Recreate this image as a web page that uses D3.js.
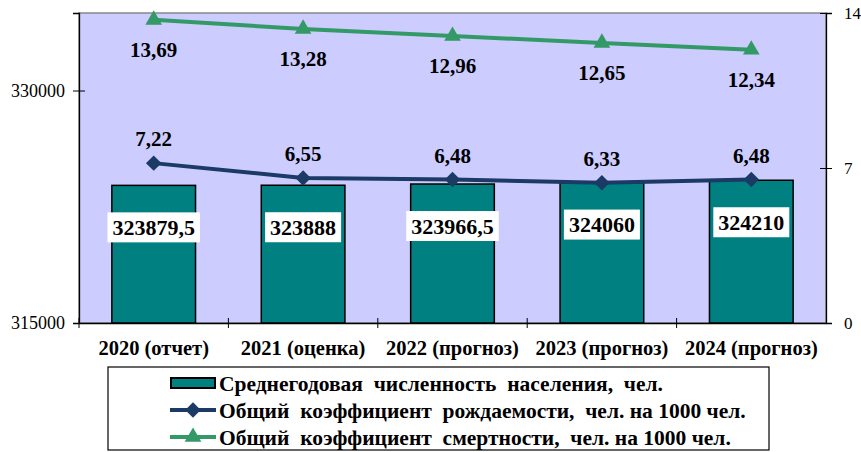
<!DOCTYPE html>
<html>
<head>
<meta charset="utf-8">
<script src="https://cdn.jsdelivr.net/npm/d3@7"></script>
</head>
<body style="margin:0;background:#fff">
<svg id="chart" width="861" height="452"></svg>
<script>
// data
var years = ["2020 (отчет)", "2021 (оценка)", "2022 (прогноз)", "2023 (прогноз)", "2024 (прогноз)"];
var population = [323879.5, 323888, 323966.5, 324060, 324210];
var popLabels = ["323879,5", "323888", "323966,5", "324060", "324210"];
var birthRate = [7.22, 6.55, 6.48, 6.33, 6.48];
var deathRate = [13.69, 13.28, 12.96, 12.65, 12.34];
var leftTicks = [315000, 330000];
var rightTicks = [0, 7, 14];
var legendNames = [
  "Среднегодовая  численность  населения,  чел.",
  "Общий  коэффициент  рождаемости,  чел. на 1000 чел.",
  "Общий  коэффициент  смертности,  чел. на 1000 чел."
];

var FONT = "Liberation Serif";
var plot = { left: 79, right: 826, top: 13, bottom: 323 };
var colors = { bg: "#ccccff", bar: "#008080", birth: "#1b3a66", death: "#339966" };
var fmt = function(v) { return String(v.toFixed(2)).replace(".", ","); };

var svg = d3.select("#chart");

var x = d3.scaleBand()
    .domain(years)
    .range([plot.left, plot.right])
    .paddingInner(0.44)
    .paddingOuter(0.22);

var xCat = d3.scaleBand()
    .domain(years)
    .range([plot.left, plot.right]);

var yLeft = d3.scaleLinear().domain([315000, 335000]).range([plot.bottom, plot.top]);
var yRight = d3.scaleLinear().domain([0, 14]).range([plot.bottom, plot.top]);

// plot background
svg.append("rect")
    .attr("x", plot.left).attr("y", plot.top)
    .attr("width", plot.right - plot.left).attr("height", plot.bottom - plot.top)
    .attr("fill", colors.bg)
    .attr("stroke", "#888").attr("stroke-width", 1.5);

// bars
svg.append("g").selectAll("rect")
    .data(population)
    .enter().append("rect")
    .attr("x", function(d, i) { return x(years[i]); })
    .attr("y", function(d) { return yLeft(d); })
    .attr("width", x.bandwidth())
    .attr("height", function(d) { return yLeft(315000) - yLeft(d); })
    .attr("fill", colors.bar)
    .attr("stroke", "#000").attr("stroke-width", 1.5);

// axes
var axL = svg.append("g")
    .attr("transform", "translate(" + plot.left + ",0)")
    .call(d3.axisLeft(yLeft).tickValues(leftTicks).tickSize(6).tickPadding(8).tickFormat(d3.format("d")));
var axR = svg.append("g")
    .attr("transform", "translate(" + plot.right + ",0)")
    .call(d3.axisRight(yRight).tickValues(rightTicks).tickSize(6).tickPadding(12));
var axB = svg.append("g")
    .attr("transform", "translate(0," + plot.bottom + ")")
    .call(d3.axisBottom(xCat).tickSize(0).tickPadding(17));

[axL, axR, axB].forEach(function(ax) {
  ax.attr("font-family", FONT);
  ax.select(".domain").attr("stroke", "#000").attr("stroke-width", 1.3);
  ax.selectAll("text").attr("fill", "#000").attr("font-family", FONT);
});
axL.selectAll("text").attr("font-size", 18);
axR.selectAll("text").attr("font-size", 17);
axL.selectAll(".tick line").attr("x2", 6).attr("x1", -6);
axR.selectAll(".tick line").attr("x1", -6).attr("x2", 6);
axB.selectAll("text").attr("font-size", 20.5).attr("font-weight", "bold");

// category dividers on the x axis
svg.append("g").selectAll("line")
    .data(years)
    .enter().append("line")
    .attr("x1", function(d) { return xCat(d); })
    .attr("x2", function(d) { return xCat(d); })
    .attr("y1", plot.bottom - 5).attr("y2", plot.bottom + 5)
    .attr("stroke", "#000").attr("stroke-width", 1);

var cx = function(i) { return x(years[i]) + x.bandwidth() / 2; };

// bar value labels
var popG = svg.append("g").selectAll("g")
    .data(population)
    .enter().append("g")
    .attr("transform", function(d, i) { return "translate(" + cx(i) + "," + (yLeft(d) + 42) + ")"; });
popG.append("text")
    .attr("text-anchor", "middle").attr("dy", "0.35em")
    .attr("font-family", FONT)
    .attr("font-size", 22).attr("font-weight", "bold")
    .text(function(d, i) { return popLabels[i]; });
popG.each(function() {
  var g = d3.select(this);
  var bb = g.select("text").node().getBBox();
  g.insert("rect", "text")
    .attr("x", bb.x - 5).attr("y", -15)
    .attr("width", bb.width + 10).attr("height", 30)
    .attr("fill", "#fff");
});

// lines
function drawLine(values, color, symbol, rotate, labelDy) {
  var line = d3.line()
      .x(function(d, i) { return cx(i); })
      .y(function(d) { return yRight(d); });
  svg.append("path")
      .datum(values)
      .attr("d", line)
      .attr("fill", "none")
      .attr("stroke", color).attr("stroke-width", 4);
  svg.append("g").selectAll("path")
      .data(values)
      .enter().append("path")
      .attr("d", symbol)
      .attr("transform", function(d, i) {
        return "translate(" + cx(i) + "," + yRight(d) + ") rotate(" + rotate + ")";
      })
      .attr("fill", color);
  svg.append("g").selectAll("text")
      .data(values)
      .enter().append("text")
      .attr("x", function(d, i) { return cx(i); })
      .attr("y", function(d) { return yRight(d) + labelDy; })
      .attr("text-anchor", "middle").attr("dy", "0.35em")
      .attr("font-family", FONT)
      .attr("font-size", 21).attr("font-weight", "bold")
      .text(fmt);
}
var diamond = d3.symbol(d3.symbolSquare, 120)();
var triangle = d3.symbol(d3.symbolTriangle, 120)();
drawLine(birthRate, colors.birth, diamond, 45, -24);
drawLine(deathRate, colors.death, triangle, 0, 30);

// legend
var leg = svg.append("g");
leg.append("rect")
    .attr("x", 108).attr("y", 367).attr("width", 661).attr("height", 83)
    .attr("fill", "#fff").attr("stroke", "#000").attr("stroke-width", 1.2);
var rows = leg.selectAll("g")
    .data(legendNames)
    .enter().append("g")
    .attr("transform", function(d, i) { return "translate(170," + (383 + i * 27) + ")"; });
rows.append("text")
    .attr("x", 49).attr("dy", "0.35em")
    .attr("font-family", FONT)
    .attr("font-size", 21.5).attr("font-weight", "bold")
    .style("white-space", "pre")
    .text(function(d) { return d; });
rows.filter(function(d, i) { return i === 0; }).append("rect")
    .attr("x", 1).attr("y", -5).attr("width", 44).attr("height", 10)
    .attr("fill", colors.bar).attr("stroke", "#000").attr("stroke-width", 2);
rows.filter(function(d, i) { return i > 0; }).append("line")
    .attr("x1", 0).attr("x2", 46)
    .attr("stroke", function(d, i) { return i === 0 ? colors.birth : colors.death; })
    .attr("stroke-width", 4);
rows.filter(function(d, i) { return i === 1; }).append("path")
    .attr("d", diamond).attr("transform", "translate(23,0) rotate(45)").attr("fill", colors.birth);
rows.filter(function(d, i) { return i === 2; }).append("path")
    .attr("d", triangle).attr("transform", "translate(23,0)").attr("fill", colors.death);
</script>
</body>
</html>
